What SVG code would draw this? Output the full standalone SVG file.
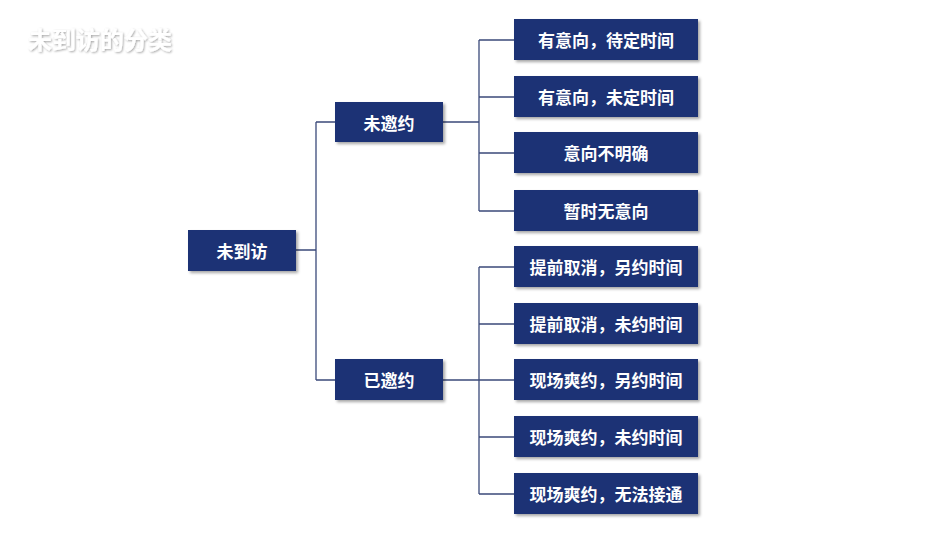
<svg xmlns="http://www.w3.org/2000/svg" width="950" height="535" viewBox="0 0 950 535">
<defs>
<filter id="sh" x="-10%" y="-20%" width="130%" height="150%"><feDropShadow dx="2" dy="2" stdDeviation="1.5" flood-color="#000" flood-opacity="0.35"/></filter>
<filter id="tsh"><feDropShadow dx="1" dy="1" stdDeviation="0.8" flood-color="#000" flood-opacity="0.35"/></filter>
</defs>
<style>
.n rect{fill:#1f3374;filter:url(#sh)}
.n text{fill:#fff;font-family:"Noto Sans CJK SC",sans-serif;font-size:17px;font-weight:bold;text-anchor:middle;dominant-baseline:central}
#conn path{fill:none;stroke:#3b4a7a;stroke-width:1.3}
</style>
<rect width="950" height="535" fill="#fff"/>
<text x="28" y="49" font-family="Noto Sans CJK SC,sans-serif" font-size="24" font-weight="bold" fill="#fff" filter="url(#tsh)">未到访的分类</text>
<g id="conn">
<path d="M296 250H316M316 122V380M316 122H335M316 380H335"/>
<path d="M443 122H479M479 40V211M479 40H514M479 97H514M479 153H514M479 211H514"/>
<path d="M443 380H479M479 267V494M479 267H514M479 324H514M479 380H514M479 437H514M479 494H514"/>
</g>
<g id="root" class="n"><rect x="188" y="230" width="108" height="41"/><text x="242" y="250.5">未到访</text></g>
<g id="a" class="n"><rect x="335" y="102" width="108" height="40"/><text x="389" y="122">未邀约</text></g>
<g id="b" class="n"><rect x="335" y="359" width="108" height="41"/><text x="389" y="379.5">已邀约</text></g>
<g id="a1" class="n"><rect x="514" y="19" width="184" height="41"/><text x="606" y="39.5">有意向，待定时间</text></g>
<g id="a2" class="n"><rect x="514" y="76" width="184" height="41"/><text x="606" y="96.5">有意向，未定时间</text></g>
<g id="a3" class="n"><rect x="514" y="132" width="184" height="41"/><text x="606" y="152.5">意向不明确</text></g>
<g id="a4" class="n"><rect x="514" y="190" width="184" height="41"/><text x="606" y="210.5">暂时无意向</text></g>
<g id="b1" class="n"><rect x="514" y="246" width="184" height="41"/><text x="606" y="266.5">提前取消，另约时间</text></g>
<g id="b2" class="n"><rect x="514" y="303" width="184" height="41"/><text x="606" y="323.5">提前取消，未约时间</text></g>
<g id="b3" class="n"><rect x="514" y="359" width="184" height="41"/><text x="606" y="379.5">现场爽约，另约时间</text></g>
<g id="b4" class="n"><rect x="514" y="416" width="184" height="41"/><text x="606" y="436.5">现场爽约，未约时间</text></g>
<g id="b5" class="n"><rect x="514" y="473" width="184" height="41"/><text x="606" y="493.5">现场爽约，无法接通</text></g>
</svg>
